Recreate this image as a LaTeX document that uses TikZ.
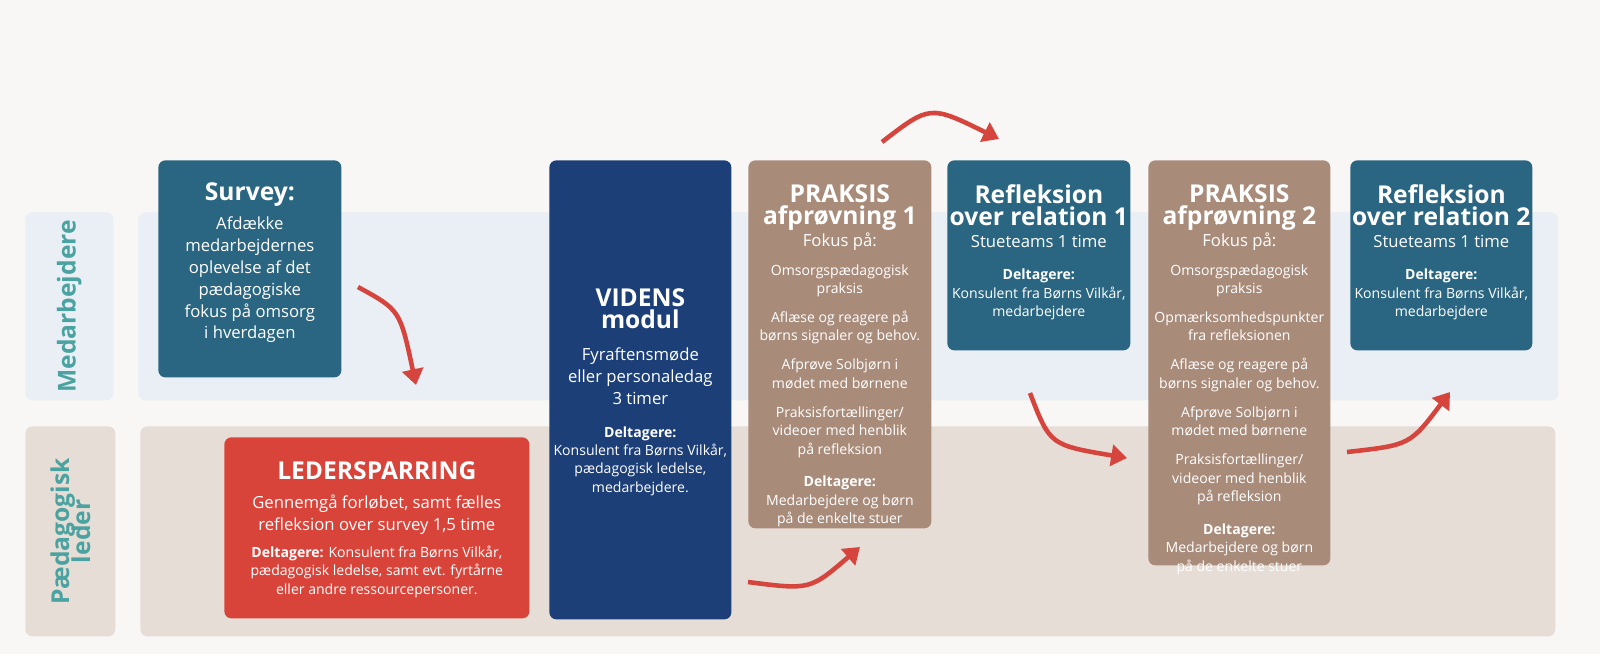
\documentclass[tikz,border=0pt]{standalone}
\usepackage{fontspec}
\setmainfont{Open Sans}
\usetikzlibrary{positioning,arrows.meta}
\definecolor{bgcol}{HTML}{F9F7F5}
\definecolor{bandblue}{HTML}{E9EFF4}
\definecolor{bandbeige}{HTML}{E6DDD6}
\definecolor{tealbox}{HTML}{2A6681}
\definecolor{redbox}{HTML}{D9443A}
\definecolor{navybox}{HTML}{1D3F78}
\definecolor{brownbox}{HTML}{A98B7A}
\definecolor{labelcol}{HTML}{4AA3A0}
\definecolor{arrowcol}{HTML}{D6453D}
\tikzstyle{box} = [rectangle, rounded corners=4pt, inner sep=0pt, anchor=north west]
\tikzstyle{boxtext} = [anchor=north, text=white, align=center, font=\fontsize{9.5}{12.5}\selectfont, inner sep=0pt]
\tikzstyle{bandlabel} = [rotate=90, text=labelcol, font=\fontsize{14}{15}\selectfont\bfseries, align=center]
\tikzstyle{arrow} = [arrowcol, line width=2.6pt, -{Triangle[length=9pt,width=12pt]}]
\newcommand{\sm}[1]{{\fontsize{8}{10.5}\selectfont #1}}
\newcommand{\ttl}[1]{{\fontsize{14}{16}\selectfont\bfseries #1}}

\begin{document}
\begin{tikzpicture}[x=0.02cm, y=-0.02cm]
\fill[bgcol] (0,0) rectangle (1600,654);
\useasboundingbox (0,0) rectangle (1600,654);

% bands
\node (lblmed) [box, fill=bandblue, minimum width=88*0.02cm, minimum height=188*0.02cm] at (25,212) {};
\node (bandmed) [box, fill=bandblue, minimum width=1420*0.02cm, minimum height=188*0.02cm] at (138,212) {};
\node (lblped) [box, fill=bandbeige, minimum width=90*0.02cm, minimum height=210*0.02cm] at (25,426) {};
\node (bandped) [box, fill=bandbeige, minimum width=1415*0.02cm, minimum height=210*0.02cm] at (140,426) {};
\node [bandlabel] at (lblmed.center) {Medarbejdere};
\node [bandlabel] at (lblped.center) {Pædagogisk\\[-3pt]leder};

% boxes
\node (survey) [box, fill=tealbox, minimum width=183*0.02cm, minimum height=217*0.02cm] at (158,160) {};
\node (leder) [box, fill=redbox, minimum width=305*0.02cm, minimum height=181*0.02cm] at (224,437) {};
\node (videns) [box, fill=navybox, minimum width=182*0.02cm, minimum height=459*0.02cm] at (549,160) {};
\node (praksis1) [box, fill=brownbox, minimum width=183*0.02cm, minimum height=368*0.02cm] at (748,160) {};
\node (refl1) [box, fill=tealbox, minimum width=183*0.02cm, minimum height=190*0.02cm] at (947,160) {};
\node (praksis2) [box, fill=brownbox, minimum width=182*0.02cm, minimum height=405*0.02cm] at (1148,160) {};
\node (refl2) [box, fill=tealbox, minimum width=182*0.02cm, minimum height=190*0.02cm] at (1350,160) {};

% texts
\node [boxtext, below=22*0.02cm of survey.north] {\ttl{Survey:}\\[4pt]
  Afdække\\medarbejdernes\\oplevelse af det\\pædagogiske\\fokus på omsorg\\i hverdagen};
\node [boxtext, below=24*0.02cm of leder.north] {\ttl{LEDERSPARRING}\\[4pt]
  Gennemgå forløbet, samt fælles\\refleksion over survey 1,5 time\\[3pt]
  \sm{\textbf{Deltagere:} Konsulent fra Børns Vilkår,}\\[-2pt]\sm{pædagogisk ledelse, samt evt. fyrtårne}\\[-2pt]\sm{eller andre ressourcepersoner.}};
\node [boxtext, below=128*0.02cm of videns.north] {\ttl{VIDENS}\\\ttl{modul}\\[6pt]
  Fyraftensmøde\\eller personaledag\\3 timer\\[6pt]
  \sm{\textbf{Deltagere:}}\\[-2pt]\sm{Konsulent fra Børns Vilkår,}\\[-2pt]\sm{pædagogisk ledelse,}\\[-2pt]\sm{medarbejdere.}};
\node [boxtext, below=24*0.02cm of praksis1.north] {\ttl{PRAKSIS}\\\ttl{afprøvning 1}\\
  Fokus på:\\[4pt]
  \sm{Omsorgspædagogisk}\\[-2pt]\sm{praksis}\\[4pt]
  \sm{Aflæse og reagere på}\\[-2pt]\sm{børns signaler og behov.}\\[4pt]
  \sm{Afprøve Solbjørn i}\\[-2pt]\sm{mødet med børnene}\\[4pt]
  \sm{Praksisfortællinger/}\\[-2pt]\sm{videoer med henblik}\\[-2pt]\sm{på refleksion}\\[6pt]
  \sm{\textbf{Deltagere:}}\\[-2pt]\sm{Medarbejdere og børn}\\[-2pt]\sm{på de enkelte stuer}};
\node [boxtext, below=24*0.02cm of refl1.north] {\ttl{Refleksion}\\\ttl{over relation 1}\\
  Stueteams 1 time\\[6pt]
  \sm{\textbf{Deltagere:}}\\[-2pt]\sm{Konsulent fra Børns Vilkår,}\\[-2pt]\sm{medarbejdere}};
\node [boxtext, below=24*0.02cm of praksis2.north] {\ttl{PRAKSIS}\\\ttl{afprøvning 2}\\
  Fokus på:\\[4pt]
  \sm{Omsorgspædagogisk}\\[-2pt]\sm{praksis}\\[4pt]
  \sm{Opmærksomhedspunkter}\\[-2pt]\sm{fra refleksionen}\\[4pt]
  \sm{Aflæse og reagere på}\\[-2pt]\sm{børns signaler og behov.}\\[4pt]
  \sm{Afprøve Solbjørn i}\\[-2pt]\sm{mødet med børnene}\\[4pt]
  \sm{Praksisfortællinger/}\\[-2pt]\sm{videoer med henblik}\\[-2pt]\sm{på refleksion}\\[6pt]
  \sm{\textbf{Deltagere:}}\\[-2pt]\sm{Medarbejdere og børn}\\[-2pt]\sm{på de enkelte stuer}};
\node [boxtext, below=24*0.02cm of refl2.north] {\ttl{Refleksion}\\\ttl{over relation 2}\\
  Stueteams 1 time\\[6pt]
  \sm{\textbf{Deltagere:}}\\[-2pt]\sm{Konsulent fra Børns Vilkår,}\\[-2pt]\sm{medarbejdere}};

% arrows
\coordinate (a1s) at (358,287); \coordinate (a1e) at (416,385);
\coordinate (a2s) at (748,582); \coordinate (a2e) at (860,547);
\coordinate (a3s) at (882,142); \coordinate (a3e) at (999,139);
\coordinate (a4s) at (1030,393); \coordinate (a4e) at (1127,458);
\coordinate (a5s) at (1347,452); \coordinate (a5e) at (1450,392);
\draw [arrow] (a1s) .. controls (400,310) .. (a1e);
\draw [arrow] (a2s) .. controls (810,590) .. (a2e);
\draw [arrow] (a3s) .. controls (930,105) .. (a3e);
\draw [arrow] (a4s) .. controls (1050,445) .. (a4e);
\draw [arrow] (a5s) .. controls (1410,445) .. (a5e);
\end{tikzpicture}
\end{document}
